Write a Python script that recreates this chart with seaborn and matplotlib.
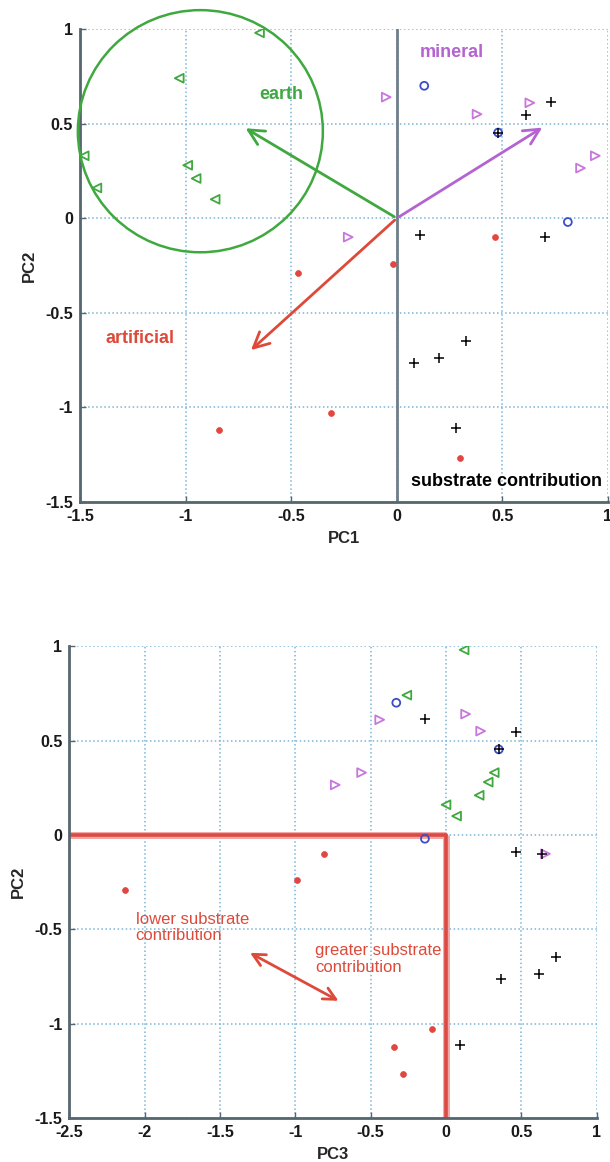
import numpy as np
import pandas as pd
import matplotlib
matplotlib.use("Agg")
import matplotlib.pyplot as plt
import seaborn as sns
from matplotlib.patches import Ellipse
from matplotlib.ticker import FormatStrFormatter

# PCA scores (PC1, PC2, PC3 for each sample)
earth_pc1 = [-0.65, -1.03, -1.48, -0.99, -0.95, -1.42, -0.86]
earth_pc2 = [0.98, 0.74, 0.33, 0.28, 0.21, 0.16, 0.10]
earth_pc3 = [0.12, -0.26, 0.32, 0.28, 0.22, 0.00, 0.07]

mineral_pc1 = [-0.05, 0.63, 0.38, 0.94, 0.87, -0.23]
mineral_pc2 = [0.64, 0.61, 0.55, 0.33, 0.265, -0.10]
mineral_pc3 = [0.13, -0.44, 0.23, -0.56, -0.735, 0.66]

blue_pc1 = [0.13, 0.48, 0.81]
blue_pc2 = [0.70, 0.453, -0.02]
blue_pc3 = [-0.33, 0.35, -0.14]

cross_pc1 = [0.73, 0.61, 0.48, 0.70, 0.11, 0.08, 0.20, 0.33, 0.28]
cross_pc2 = [0.614, 0.545, 0.453, -0.10, -0.09, -0.765, -0.738, -0.648, -1.11]
cross_pc3 = [-0.14, 0.465, 0.35, 0.637, 0.465, 0.365, 0.615, 0.73, 0.093]

red_pc1 = [0.467, -0.017, -0.47, -0.31, -0.844, 0.298]
red_pc2 = [-0.10, -0.24, -0.29, -1.027, -1.122, -1.266]
red_pc3 = [-0.81, -0.99, -2.13, -0.093, -0.343, -0.288]

# loading vectors in the PC1/PC2 plane
load_names = ["earth", "mineral", "artificial"]
load_pc1 = [-0.727, 0.70, -0.70]
load_pc2 = [0.483, 0.487, -0.707]

frames = []
for g, a, b, c in [("earth", earth_pc1, earth_pc2, earth_pc3),
                   ("mineral", mineral_pc1, mineral_pc2, mineral_pc3),
                   ("blue", blue_pc1, blue_pc2, blue_pc3),
                   ("cross", cross_pc1, cross_pc2, cross_pc3),
                   ("red", red_pc1, red_pc2, red_pc3)]:
    frames.append(pd.DataFrame({"group": g, "PC1": a, "PC2": b, "PC3": c}))
df = pd.concat(frames, ignore_index=True)

GREEN = "#3fa83f"
PURPLE = "#c876dc"
BLUE = "#3a4fc8"
RED = "#e2463f"
GRID = "#79b4d8"
SPINE = "#56666f"

styles = {
    "earth": dict(marker="<", s=40, facecolor="none", edgecolor=GREEN, linewidth=1.3),
    "mineral": dict(marker=">", s=40, facecolor="none", edgecolor=PURPLE, linewidth=1.3),
    "blue": dict(marker="o", s=32, facecolor="none", edgecolor=BLUE, linewidth=1.3),
    "cross": dict(marker="+", s=45, color="k", edgecolor="k", linewidth=1.1),
    "red": dict(marker="o", s=18, color=RED, edgecolor=RED, linewidth=0.5),
}

sns.set_style("white")
plt.rcParams["font.family"] = ["Liberation Sans", "DejaVu Sans"]
plt.rcParams["axes.unicode_minus"] = False

fig = plt.figure(figsize=(6.1, 11.62), dpi=100)
ax1 = fig.add_axes([0.1311, 0.568, 0.8656, 0.407])
ax2 = fig.add_axes([0.1136, 0.0376, 0.8646, 0.4064])


def style_axes(ax, xmin):
    ax.set_xlim(xmin, 1)
    ax.set_ylim(-1.5, 1)
    ax.set_xticks(np.arange(xmin, 1.01, 0.5))
    ax.set_yticks(np.arange(-1.5, 1.01, 0.5))
    ax.xaxis.set_major_formatter(FormatStrFormatter("%g"))
    ax.yaxis.set_major_formatter(FormatStrFormatter("%g"))
    ax.grid(True, linestyle=":", color=GRID, linewidth=1.1)
    ax.set_axisbelow(True)
    for s in ["top", "right"]:
        ax.spines[s].set_visible(False)
    for s in ["left", "bottom"]:
        ax.spines[s].set_color(SPINE)
        ax.spines[s].set_linewidth(2)
    ax.tick_params(direction="in", length=4, width=1, color=SPINE,
                   labelsize=11.5, pad=5, left=True, bottom=True)
    for lab in ax.get_xticklabels() + ax.get_yticklabels():
        lab.set_fontweight("bold")
        lab.set_color("#1a1a1a")


for g, kw in styles.items():
    sub = df[df.group == g]
    sns.scatterplot(data=sub, x="PC1", y="PC2", ax=ax1, legend=False, zorder=3, **kw)
    sns.scatterplot(data=sub, x="PC3", y="PC2", ax=ax2, legend=False, zorder=3, **kw)

# --- top panel: PC1 vs PC2 ---
style_axes(ax1, -1.5)
ax1.axvline(0, color="#6f7f89", linewidth=2, zorder=2)
load_colors = [GREEN, "#b463d0", "#dd4a3a"]
for name, x, y, c in zip(load_names, load_pc1, load_pc2, load_colors):
    ax1.annotate("", xy=(x, y), xytext=(0, 0),
                 arrowprops=dict(arrowstyle="->", color=c, lw=2, mutation_scale=28))
ax1.add_patch(Ellipse((-0.93, 0.46), 1.16, 1.28, fill=False, edgecolor=GREEN,
                      linewidth=1.8, clip_on=False, zorder=4))
ax1.text(-0.546, 0.654, "earth", color=GREEN, fontsize=13, fontweight="bold",
         ha="center", va="center")
ax1.text(0.26, 0.875, "mineral", color="#b463d0", fontsize=13, fontweight="bold",
         ha="center", va="center")
ax1.text(-1.216, -0.637, "artificial", color="#dd4a3a", fontsize=13, fontweight="bold",
         ha="center", va="center")
ax1.text(0.97, -1.39, "substrate contribution", color="k", fontsize=13,
         fontweight="bold", ha="right", va="center")
ax1.set_xlabel("PC1", fontsize=12, fontweight="bold", labelpad=5)
ax1.set_ylabel("PC2", fontsize=12, fontweight="bold", labelpad=6)

# --- bottom panel: PC3 vs PC2 ---
style_axes(ax2, -2.5)
split_pc3 = 0.0
split_pc2 = 0.0
ax2.plot([-2.5, split_pc3], [split_pc2, split_pc2], color="#f2a8a6", linewidth=5, zorder=2,
         solid_capstyle="butt")
ax2.plot([split_pc3, split_pc3], [split_pc2, -1.5], color="#f2a8a6", linewidth=5, zorder=2,
         solid_capstyle="butt")
ax2.plot([-2.5, split_pc3], [split_pc2, split_pc2], color="#dc4a44", linewidth=2.6, zorder=2)
ax2.plot([split_pc3, split_pc3], [split_pc2, -1.5], color="#dc4a44", linewidth=2.6, zorder=2)
ax2.annotate("", xy=(-1.317, -0.617), xytext=(-0.697, -0.885),
             arrowprops=dict(arrowstyle="<->", color="#dd4a3a", lw=2, mutation_scale=22))
ax2.text(-2.06, -0.49, "lower substrate\ncontribution", color="#dd4a3a", fontsize=12,
         ha="left", va="center", linespacing=1.15)
ax2.text(-0.87, -0.655, "greater substrate\ncontribution", color="#dd4a3a", fontsize=12,
         ha="left", va="center", linespacing=1.15)
ax2.set_xlabel("PC3", fontsize=12, fontweight="bold", labelpad=5)
ax2.set_ylabel("PC2", fontsize=12, fontweight="bold", labelpad=6)

fig.savefig("out.png", dpi=100)
